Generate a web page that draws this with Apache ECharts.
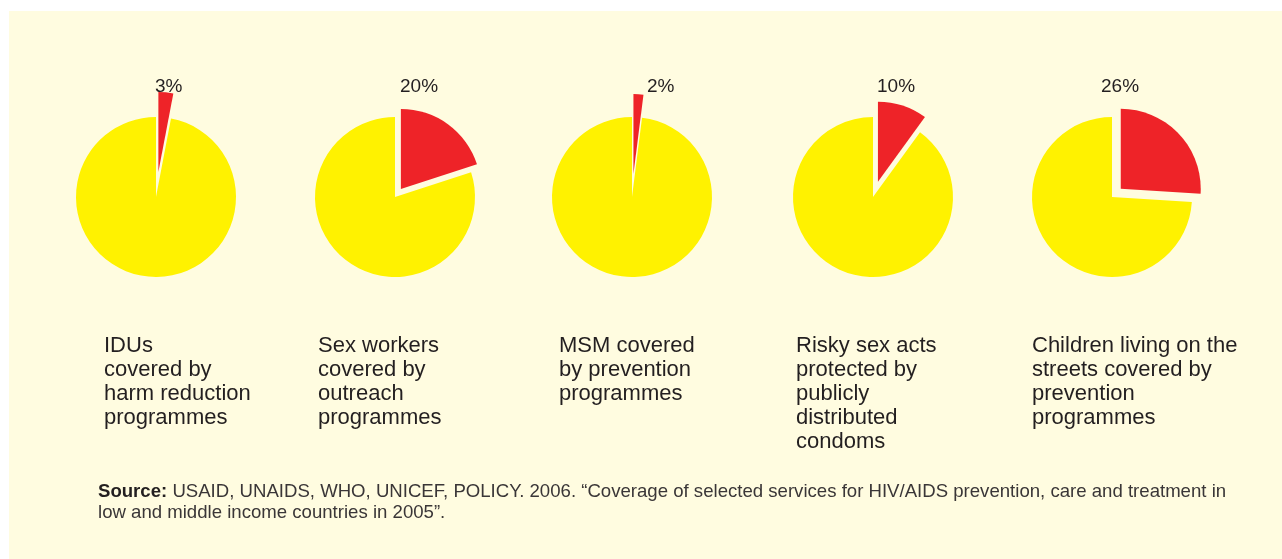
<!DOCTYPE html>
<html>
<head>
<meta charset="utf-8">
<title>Coverage of selected HIV/AIDS prevention services, 2005</title>
<script src="https://cdn.jsdelivr.net/npm/echarts@6/dist/echarts.min.js"></script>
<style>
  html, body { margin: 0; padding: 0; background: #ffffff; }
  #chart { width: 1282px; height: 559px; }
</style>
</head>
<body>
<div id="chart"></div>
<script>
// data: percentage covered per group
var groups = [
  "IDUs\ncovered by\nharm reduction\nprogrammes",
  "Sex workers\ncovered by\noutreach\nprogrammes",
  "MSM covered\nby prevention\nprogrammes",
  "Risky sex acts\nprotected by\npublicly\ndistributed\ncondoms",
  "Children living on the\nstreets covered by\nprevention\nprogrammes"
];
var covered = [3, 20, 2, 10, 26];
var sourceText = "{b|Source:} USAID, UNAIDS, WHO, UNICEF, POLICY. 2006. \u201cCoverage of selected services for HIV/AIDS prevention, care and treatment in\nlow and middle income countries in 2005\u201d.";

// layout (pixels)
var pieX = [156, 395, 632, 873, 1112];
var pieY = 197;
var pieR = 80;
var explode = [25, 10, 23, 16, 12];
var pctX = [155, 400, 647, 877, 1101];
var textX = [104, 318, 559, 796, 1032];

var RED = "#ee2328";
var YELLOW = "#fff200";
var INK = "#231f20";
var FONT = "Liberation Sans, Arial, sans-serif";

var series = covered.map(function (v, i) {
  return {
    type: "pie",
    center: [pieX[i], pieY],
    radius: pieR,
    startAngle: 90,
    clockwise: true,
    selectedMode: "single",
    selectedOffset: explode[i],
    silent: true,
    emphasis: { disabled: true },
    label: { show: false },
    labelLine: { show: false },
    data: [
      { value: v, name: "covered", selected: true, itemStyle: { color: RED } },
      { value: 100 - v, name: "not covered", itemStyle: { color: YELLOW } }
    ]
  };
});

// percentage labels above each pie
var titles = covered.map(function (v, i) {
  return {
    text: v + "%",
    left: pctX[i],
    top: 77,
    padding: 0,
    textStyle: {
      color: INK,
      fontFamily: FONT,
      fontSize: 19,
      fontWeight: "normal",
      lineHeight: 19
    }
  };
});

// group descriptions below each pie
groups.forEach(function (g, i) {
  titles.push({
    text: g,
    left: textX[i],
    top: 334,
    padding: 0,
    textStyle: {
      color: INK,
      fontFamily: FONT,
      fontSize: 22,
      fontWeight: "normal",
      lineHeight: 24
    }
  });
});

titles.push({
  text: sourceText,
  left: 98,
  top: 481,
  padding: 0,
  textStyle: {
    color: "#3a3637",
    fontFamily: FONT,
    fontSize: 18.6,
    fontWeight: "normal",
    lineHeight: 21,
    rich: {
      b: { fontFamily: FONT, fontSize: 18.6, fontWeight: "bold", color: INK, lineHeight: 21 }
    }
  }
});

var option = {
  animation: false,
  backgroundColor: "#ffffff",
  graphic: [
    {
      type: "rect",
      z: -10,
      silent: true,
      shape: { x: 9, y: 11, width: 1273, height: 548 },
      style: { fill: "#fffce0" }
    }
  ],
  title: titles,
  series: series
};

var myChart = echarts.init(document.getElementById("chart"));
myChart.setOption(option);
</script>
</body>
</html>
